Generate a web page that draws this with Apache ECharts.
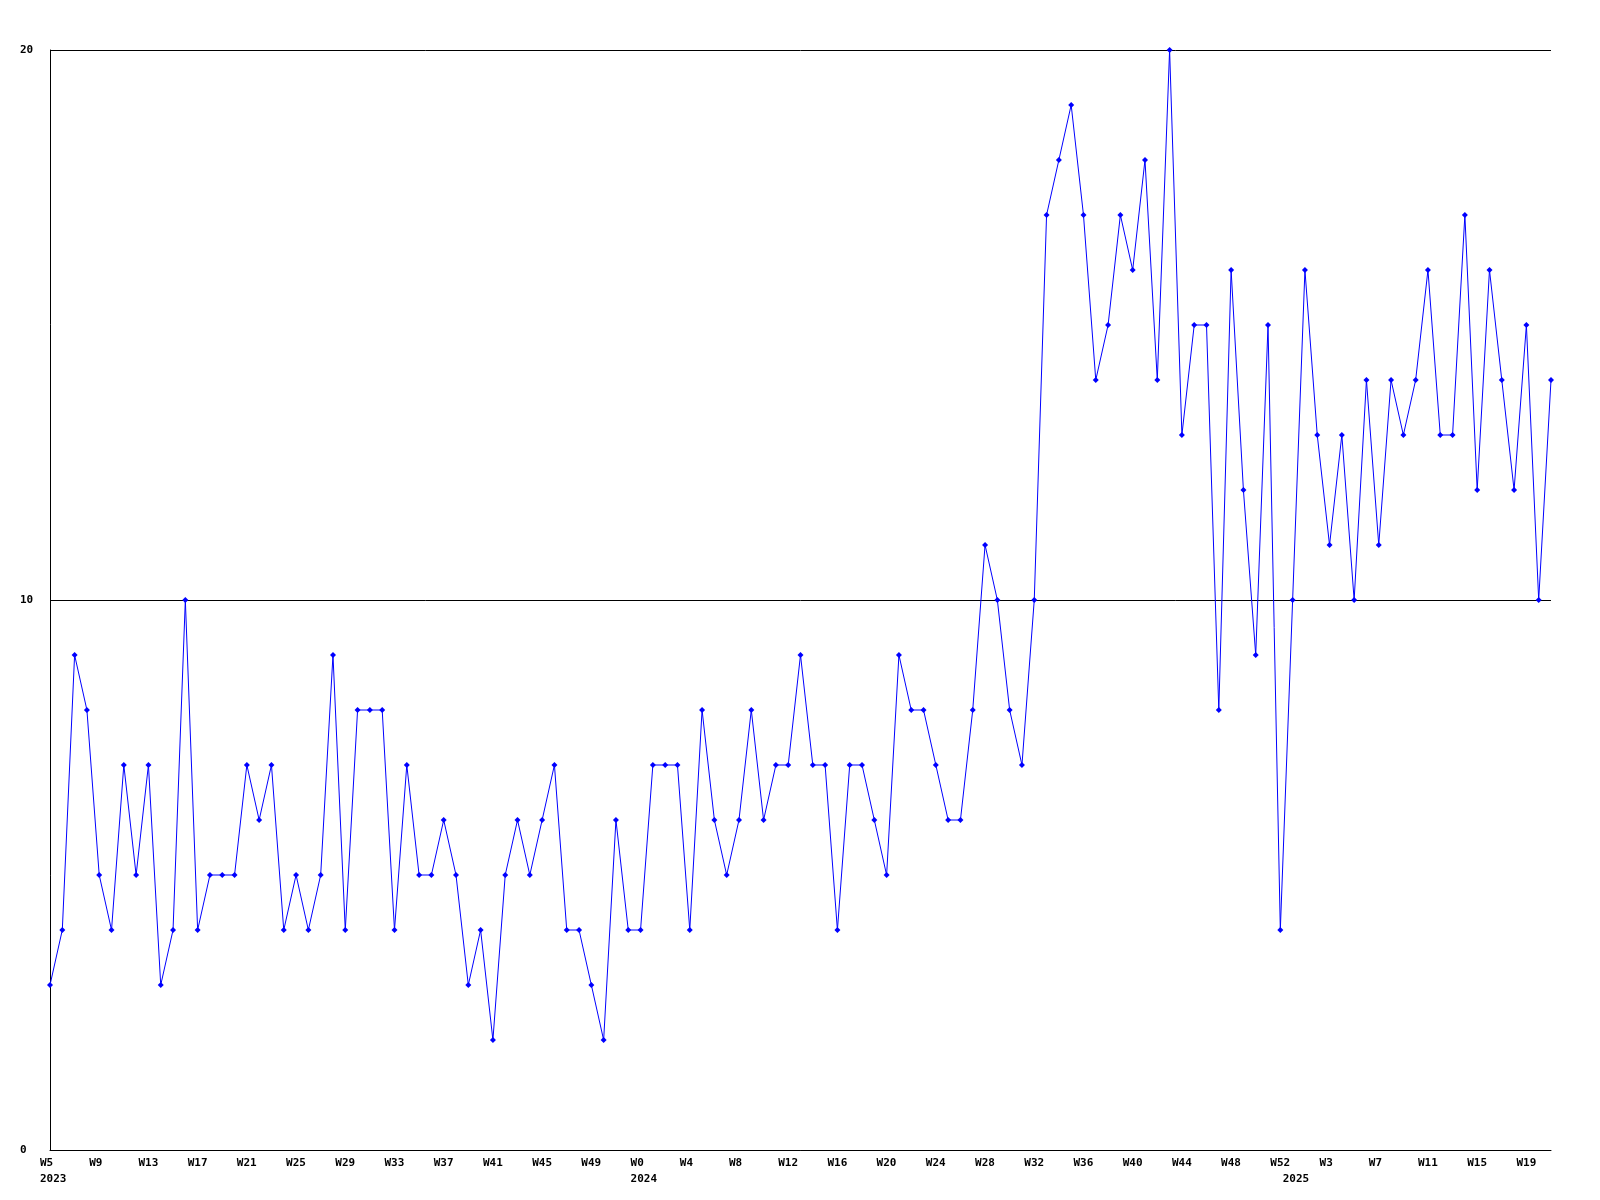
<!DOCTYPE html>
<html>
<head>
<meta charset="utf-8">
<script src="https://cdn.jsdelivr.net/npm/echarts@6/dist/echarts.min.js"></script>
<style>
html,body{margin:0;padding:0;background:#fff;}
#chart{width:1600px;height:1200px;}
</style>
</head>
<body>
<div id="chart"></div>
<script>
// Week numbers per year (categories)
const weeks2023 = [5,6,7,8,9,10,11,12,13,14,15,16,17,18,19,20,21,22,23,24,25,26,27,28,29,30,31,32,33,34,35,36,37,38,39,40,41,42,43,44,45,46,47,48,49,50,51,52];
const weeks2024 = [0,1,2,3,4,5,6,7,8,9,10,11,12,13,14,15,16,17,18,19,20,21,22,23,24,25,26,27,28,29,30,31,32,33,34,35,36,37,38,39,40,41,42,43,44,45,46,47,48,49,50,51,52];
const weeks2025 = [0,1,2,3,4,5,6,7,8,9,10,11,12,13,14,15,16,17,18,19,20,21];

// Weekly values
const values2023 = [3,4,9,8,5,4,7,5,7,3,4,10,4,5,5,5,7,6,7,4,5,4,5,9,4,8,8,8,4,7,5,5,6,5,3,4,2,5,6,5,6,7,4,4,3,2,6,4];
const values2024 = [4,7,7,7,4,8,6,5,6,8,6,7,7,9,7,7,4,7,7,6,5,9,8,8,7,6,6,8,11,10,8,7,10,17,18,19,17,14,15,17,16,18,14,20,13,15,15,8,16,12,9,15,4];
const values2025 = [10,16,13,11,13,10,14,11,14,13,14,16,13,13,17,12,16,14,12,15,10,14];

// y-axis ticks
const yTicks = [0, 10, 20];

const years = [2023, 2024, 2025];
const weekLists = [weeks2023, weeks2024, weeks2025];
const valueLists = [values2023, values2024, values2025];

const categories = [];
const yearOf = [];
const yearStart = [];
const data = [];
weekLists.forEach((wl, yi) => {
  wl.forEach((w, k) => {
    categories.push('W' + w);
    yearOf.push(years[yi]);
    yearStart.push(k === 0);
  });
  valueLists[yi].forEach(v => data.push(v));
});

const FONT = '"DejaVu Sans Mono", monospace';
const chart = echarts.init(document.getElementById('chart'), null, {renderer: 'canvas'});
chart.setOption({
  animation: false,
  backgroundColor: '#ffffff',
  grid: {left: 50, right: 49, top: 50, bottom: 50, containLabel: false, outerBoundsMode: 'none'},
  xAxis: {
    type: 'category',
    data: categories,
    boundaryGap: false,
    axisLine: {show: true, lineStyle: {color: '#000', width: 1}},
    axisTick: {show: false},
    splitLine: {show: false},
    axisLabel: {
      interval: function (idx) { return idx % 4 === 0 || yearStart[idx]; },
      formatter: function (val, idx) {
        const wk = (idx % 4 === 0) ? val : ' ';
        return yearStart[idx] ? wk + '\n' + yearOf[idx] : wk;
      },
      align: 'left',
      verticalAlign: 'top',
      padding: [0, 0, 0, -10],
      margin: 5,
      lineHeight: 16,
      color: '#000',
      fontFamily: FONT,
      fontWeight: 'bold',
      fontSize: 11
    }
  },
  yAxis: {
    type: 'value',
    min: yTicks[0],
    max: yTicks[yTicks.length - 1],
    interval: yTicks[1] - yTicks[0],
    axisLine: {show: true, lineStyle: {color: '#000', width: 1}},
    axisTick: {show: false},
    splitLine: {show: true, lineStyle: {color: '#000', width: 1}},
    axisLabel: {
      align: 'left',
      margin: 30,
      padding: [1, 0, 0, 0],
      color: '#000',
      fontFamily: FONT,
      fontWeight: 'bold',
      fontSize: 11
    }
  },
  series: [{
    type: 'line',
    data: data,
    symbol: 'diamond',
    symbolSize: 6,
    showAllSymbol: true,
    lineStyle: {color: '#0000ff', width: 1},
    itemStyle: {color: '#0000ff'},
    emphasis: {disabled: true}
  }]
});
</script>
</body>
</html>
